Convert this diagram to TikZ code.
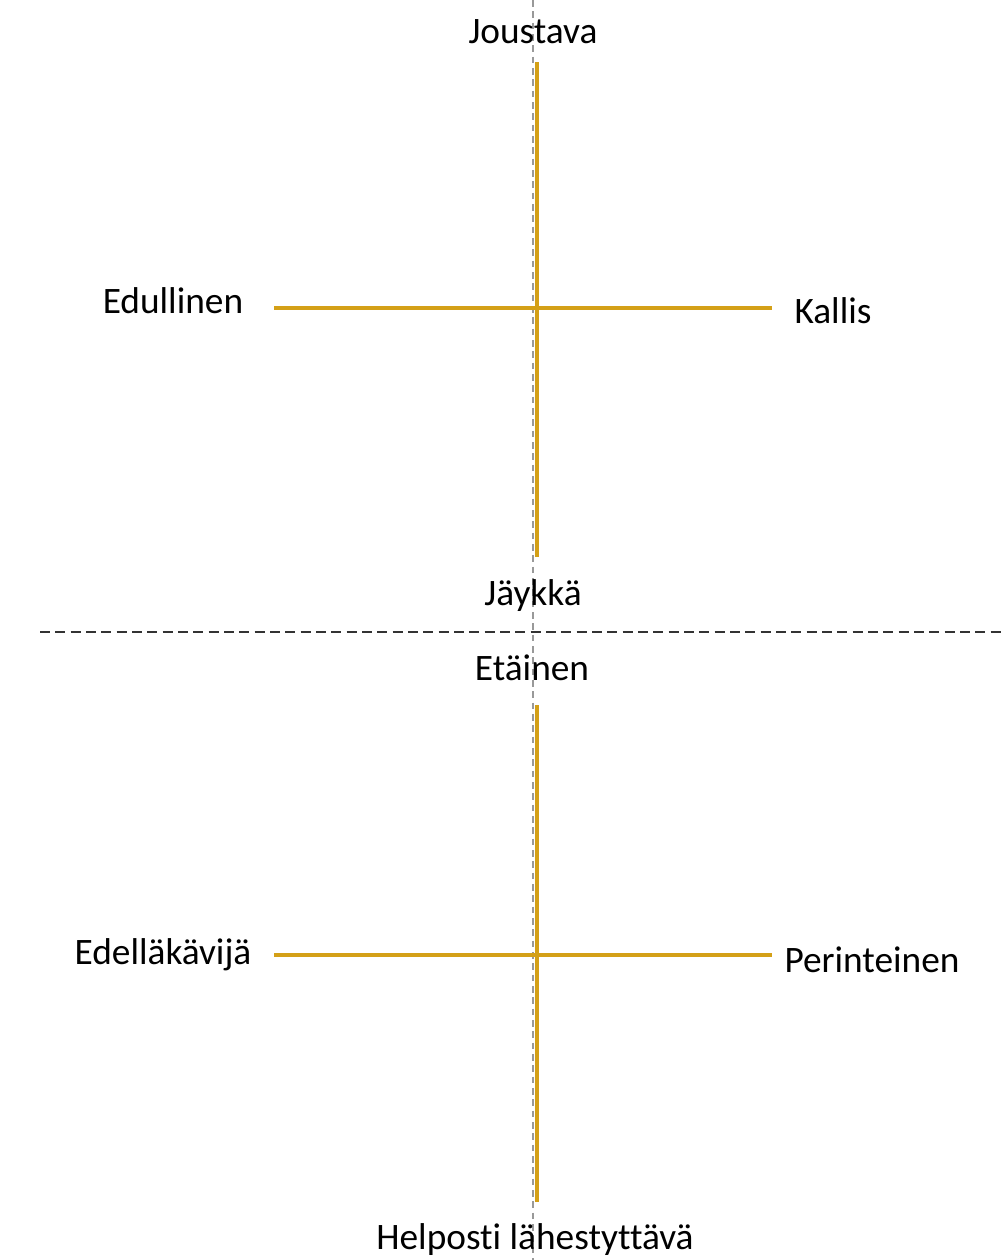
\documentclass[tikz,border=0pt]{standalone}
\usepackage{fontspec}
\setmainfont[Ligatures={NoCommon}]{Carlito}
\usepackage{tikz}
\usetikzlibrary{positioning}
\definecolor{axisgold}{RGB}{212,160,23}
\tikzset{
  lbl/.style={font=\fontsize{28}{33}\selectfont, text=black, inner sep=0pt},
  axisline/.style={draw=axisgold, line width=3pt},
  guide/.style={draw=black!40, line width=0.9pt, dash pattern=on 5pt off 3.5pt},
  divider/.style={draw=black!80, line width=1.5pt, dash pattern=on 7.5pt off 4pt}
}
\begin{document}
\begin{tikzpicture}[x=0.75pt, y=-0.75pt]
\useasboundingbox (0,0) rectangle (1005,1260);
% guide and divider
\coordinate (gtop) at (533,0);
\coordinate (gbot) at (533,1260);
\coordinate (dl) at (40,632);
\coordinate (dr) at (1005,632);
\draw[guide] (gtop) -- (gbot);
\draw[divider] (dl) -- (dr);
% upper axes
\coordinate (u1) at (537,62);
\coordinate (u2) at (537,557);
\coordinate (u3) at (274,308);
\coordinate (u4) at (772,308);
\draw[axisline] (u1) -- (u2);
\draw[axisline] (u3) -- (u4);
\node[lbl] (joustava) at (533,32) {Joustava};
\node[lbl] (jaykka) at (533,596) {Jäykkä};
\node[lbl] (edullinen) at (173,301) {Edullinen};
\node[lbl] (kallis) at (833,311) {Kallis};
% lower axes
\coordinate (l1) at (537,705);
\coordinate (l2) at (537,1202);
\coordinate (l3) at (274,955);
\coordinate (l4) at (772,955);
\draw[axisline] (l1) -- (l2);
\draw[axisline] (l3) -- (l4);
\node[lbl] (etainen) at (532,668) {Etäinen};
\node[lbl] (helposti) at (535,1240) {Helposti lähestyttävä};
\node[lbl] (edella) at (163,955) {Edelläkävijä};
\node[lbl] (perinteinen) at (872,960) {Perinteinen};
\end{tikzpicture}
\end{document}
